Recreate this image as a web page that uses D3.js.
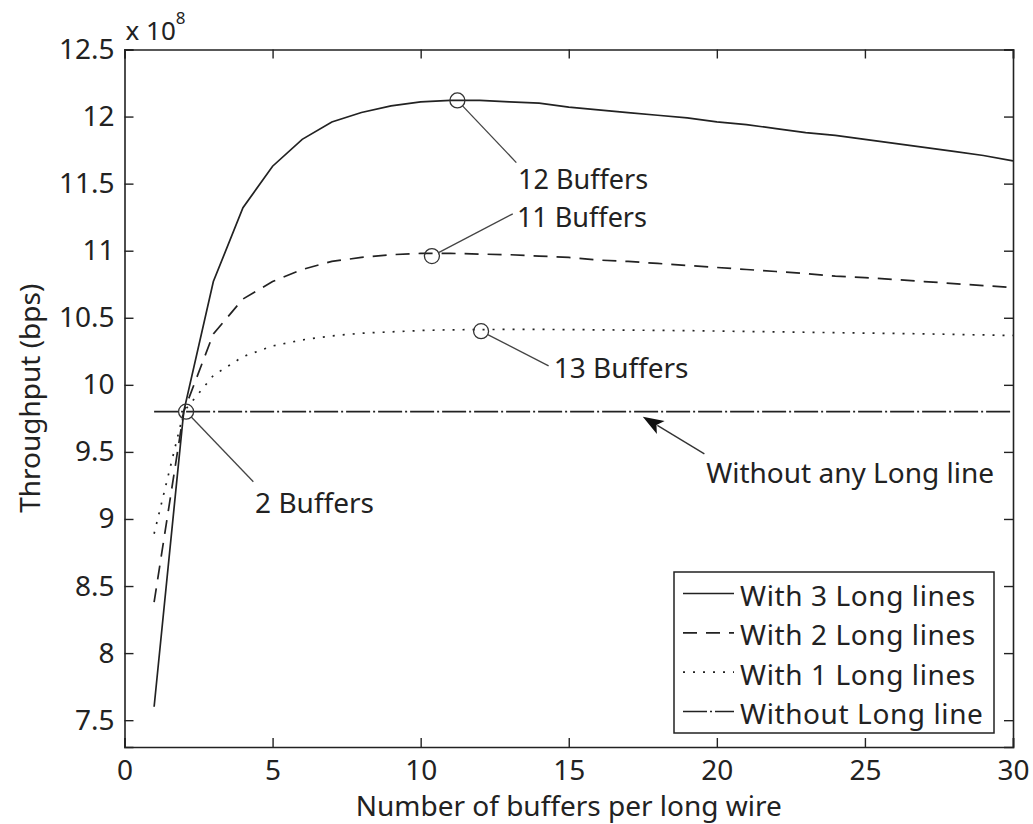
<!DOCTYPE html>
<html>
<head>
<meta charset="utf-8">
<script src="https://cdn.jsdelivr.net/npm/d3@7"></script>
<style>
  html, body { margin: 0; padding: 0; background: #fff; }
  svg { display: block; }
  text { font-family: "Noto Sans", "Open Sans", sans-serif; fill: #222; }
</style>
</head>
<body>
<svg id="chart" width="1033" height="824"></svg>
<script>
// Buffers per long wire (x) and throughput in units of 1e8 bps
const buffers = d3.range(1, 31);
const threeLong = [7.60, 9.80, 10.77, 11.32, 11.63, 11.83, 11.96, 12.03, 12.08, 12.11,
                   12.12, 12.12, 12.11, 12.10, 12.07, 12.05, 12.03, 12.01, 11.99, 11.96,
                   11.94, 11.91, 11.88, 11.86, 11.83, 11.80, 11.77, 11.74, 11.71, 11.67];
const twoLong   = [8.38, 9.80, 10.38, 10.64, 10.77, 10.86, 10.92, 10.95, 10.97, 10.98,
                   10.98, 10.975, 10.97, 10.96, 10.95, 10.93, 10.92, 10.905, 10.89, 10.875,
                   10.86, 10.845, 10.83, 10.81, 10.80, 10.785, 10.77, 10.755, 10.74, 10.725];
const oneLong   = [8.89, 9.80, 10.07, 10.21, 10.29, 10.335, 10.365, 10.385, 10.395, 10.405,
                   10.41, 10.412, 10.413, 10.413, 10.412, 10.41, 10.408, 10.406, 10.404, 10.401,
                   10.398, 10.395, 10.392, 10.389, 10.386, 10.383, 10.38, 10.376, 10.372, 10.368];
const noLong    = buffers.map(() => 9.80);

const seriesNames = ["With 3 Long lines", "With 2 Long lines", "With 1 Long lines", "Without Long line"];
const xTicks = [0, 5, 10, 15, 20, 25, 30];
const yTicks = [7.5, 8, 8.5, 9, 9.5, 10, 10.5, 11, 11.5, 12, 12.5];

// Marked points: circle position, leader end and label anchor (data units)
const callouts = [
  { label: "2 Buffers",  cx: 2.08,  cy: 9.80,  lx: 4.35,  ly: 9.278,  tx: 4.41,  ty: 9.047,  size: 28 },
  { label: "12 Buffers", cx: 11.24, cy: 12.12, lx: 13.23, ly: 11.657, tx: 13.29, ty: 11.46,  size: 27 },
  { label: "11 Buffers", cx: 10.38, cy: 10.96, lx: 13.11, ly: 11.275, tx: 13.25, ty: 11.18,  size: 27 },
  { label: "13 Buffers", cx: 12.04, cy: 10.40, lx: 14.32, ly: 10.141, tx: 14.49, ty: 10.049, size: 28 }
];
const arrowNote = { label: "Without any Long line", tipX: 17.5, tipY: 9.763, tailX: 19.58, tailY: 9.485, tx: 19.64, ty: 9.271 };

const svg = d3.select("#chart");
const plotL = 124.5, plotR = 1013, plotT = 49.5, plotB = 747;
const x = d3.scaleLinear().domain([0, 30]).range([plotL, plotR]);
const y = d3.scaleLinear().domain([7.3, 12.5]).range([plotB, plotT]);
const ink = "#222";

// Curves
const styles = [
  { data: threeLong, dash: null },
  { data: twoLong,   dash: "14,9" },
  { data: oneLong,   dash: "2,8" },
  { data: noLong,    dash: "24,3,2,3" }
];
const line = d3.line().x((d, i) => x(buffers[i])).y(d => y(d));
const curves = svg.append("g");
styles.forEach(s => {
  curves.append("path")
    .attr("d", line(s.data))
    .attr("fill", "none")
    .attr("stroke", ink)
    .attr("stroke-width", 1.7)
    .attr("stroke-dasharray", s.dash);
});

// Axes box with inward ticks on all four sides
const tickLen = 9;
const axisG = svg.append("g");
const fmt = d => String(d);
axisG.append("g").attr("transform", `translate(0,${plotB})`)
  .call(d3.axisBottom(x).tickValues(xTicks).tickSize(-tickLen).tickPadding(13).tickFormat(fmt));
axisG.append("g").attr("transform", `translate(0,${plotT})`)
  .call(d3.axisTop(x).tickValues(xTicks).tickSize(-tickLen).tickFormat(""));
axisG.append("g").attr("transform", `translate(${plotL},0)`)
  .call(d3.axisLeft(y).tickValues(yTicks).tickSize(-tickLen).tickPadding(10).tickFormat(fmt));
axisG.append("g").attr("transform", `translate(${plotR},0)`)
  .call(d3.axisRight(y).tickValues(yTicks).tickSize(-tickLen).tickFormat(""));
axisG.selectAll(".domain").attr("stroke", ink).attr("stroke-width", 1.6);
axisG.selectAll(".tick line").attr("stroke", ink).attr("stroke-width", 1.4);
axisG.selectAll(".tick text").style("font-size", "28px").attr("fill", ink)
  .style("font-family", "'Noto Sans', 'Open Sans', sans-serif");

// Exponent label
const expo = svg.append("text").attr("x", plotL + 1).attr("y", 40).style("font-size", "26px");
expo.append("tspan").text("x 10");
expo.append("tspan").attr("dy", -16).style("font-size", "17px").text("8");

// Axis titles
svg.append("text")
  .attr("x", (plotL + plotR) / 2).attr("y", 816)
  .attr("text-anchor", "middle").style("font-size", "28px")
  .text("Number of buffers per long wire");
svg.append("text")
  .attr("transform", `translate(40,${(plotT + plotB) / 2}) rotate(-90)`)
  .attr("text-anchor", "middle").style("font-size", "28px")
  .text("Throughput (bps)");

// Callouts
const r = 7.5;
const notes = svg.append("g");
callouts.forEach(c => {
  const px = x(c.cx), py = y(c.cy), ex = x(c.lx), ey = y(c.ly);
  const len = Math.hypot(ex - px, ey - py);
  notes.append("circle").attr("cx", px).attr("cy", py).attr("r", r)
    .attr("fill", "none").attr("stroke", "#333").attr("stroke-width", 1.3);
  notes.append("line")
    .attr("x1", px + (ex - px) / len * r).attr("y1", py + (ey - py) / len * r)
    .attr("x2", ex).attr("y2", ey)
    .attr("stroke", "#444").attr("stroke-width", 1.3);
  notes.append("text").attr("x", x(c.tx)).attr("y", y(c.ty))
    .style("font-size", c.size + "px").text(c.label);
});

// Arrow pointing at the reference line
{
  const tx = x(arrowNote.tipX), ty = y(arrowNote.tipY);
  const sx = x(arrowNote.tailX), sy = y(arrowNote.tailY);
  const ang = Math.atan2(ty - sy, tx - sx);
  const headL = 21, headW = 7.5;
  const bx = tx - Math.cos(ang) * headL, by = ty - Math.sin(ang) * headL;
  const nx = -Math.sin(ang), ny = Math.cos(ang);
  notes.append("line").attr("x1", sx).attr("y1", sy).attr("x2", bx + Math.cos(ang) * 4).attr("y2", by + Math.sin(ang) * 4)
    .attr("stroke", "#333").attr("stroke-width", 1.4);
  const notch = 5;
  notes.append("path")
    .attr("d", `M${tx},${ty} L${bx + nx * headW},${by + ny * headW} L${bx + Math.cos(ang) * notch},${by + Math.sin(ang) * notch} L${bx - nx * headW},${by - ny * headW} Z`)
    .attr("fill", "#111");
  notes.append("text").attr("x", x(arrowNote.tx)).attr("y", y(arrowNote.ty))
    .style("font-size", "28px").text(arrowNote.label);
}

// Legend
const lg = { x0: 674, y0: 572, x1: 994, y1: 733 };
const legend = svg.append("g");
legend.append("rect")
  .attr("x", lg.x0).attr("y", lg.y0).attr("width", lg.x1 - lg.x0).attr("height", lg.y1 - lg.y0)
  .attr("fill", "#fff").attr("stroke", ink).attr("stroke-width", 1.5);
const rowY = d3.scaleLinear().domain([0, 3]).range([593.5, 711.5]);
seriesNames.forEach((name, i) => {
  const yy = rowY(i);
  legend.append("line").attr("x1", 683).attr("x2", 734).attr("y1", yy).attr("y2", yy)
    .attr("stroke", ink).attr("stroke-width", 1.6).attr("stroke-dasharray", styles[i].dash);
  legend.append("text").attr("x", 740).attr("y", yy + 12.5)
    .style("font-size", "28px").style("letter-spacing", "0.6px").text(name);
});
</script>
</body>
</html>
